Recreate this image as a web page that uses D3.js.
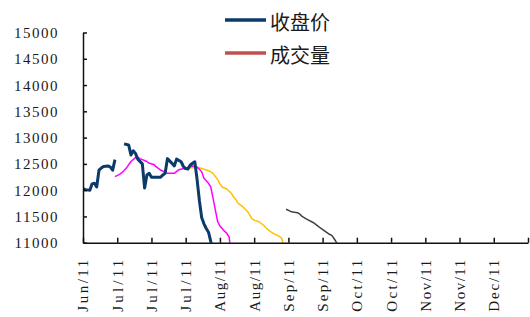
<!DOCTYPE html>
<html>
<head>
<meta charset="utf-8">
<script src="https://cdn.jsdelivr.net/npm/d3@7"></script>
<style>
  body { margin: 0; background: #fff; }
  svg { display: block; }
  .axis text { font-family: "Liberation Serif", serif; font-size: 15px; fill: #1a1a1a; }
  .axis path, .axis line { stroke: #111; stroke-width: 1.5; }
  .legend text { font-family: "Noto Sans CJK SC", sans-serif; font-size: 20px; fill: #1a1a1a; }
</style>
</head>
<body>
<div id="chart"></div>
<script>
/* global d3 */

// tick labels (15 day steps, last tick has no label)
var tickDates = ["2011-06-16", "2011-07-01", "2011-07-16", "2011-07-31", "2011-08-15", "2011-08-30",
  "2011-09-14", "2011-09-29", "2011-10-14", "2011-10-29", "2011-11-13", "2011-11-28", "2011-12-13", "2011-12-28"];
var tickLabels = ["Jun/11", "Jul/11", "Jul/11", "Jul/11", "Aug/11", "Aug/11", "Sep/11",
  "Sep/11", "Oct/11", "Oct/11", "Nov/11", "Nov/11", "Dec/11", ""];
var yTicks = [11000, 11500, 12000, 12500, 13000, 13500, 14000, 14500, 15000];

var legendNames = ["收盘价", "成交量"];
var legendColors = ["#0b3a6b", "#c0504d"];

// 收盘价
var closeDates = ["06-16", "06-17", "06-19", "06-20", "06-21", "06-22", "06-23", "06-24", "06-25", "06-27",
  "06-28", "06-29", "06-30", "07-02", "07-04", "07-06", "07-07", "07-08", "07-09", "07-10",
  "07-12", "07-13", "07-14", "07-15", "07-16", "07-20", "07-21", "07-22", "07-23", "07-25",
  "07-26", "07-27", "07-29", "07-30", "07-31", "08-01", "08-02", "08-03", "08-04", "08-05",
  "08-06", "08-07", "08-08", "08-09", "08-10", "08-11", "08-12"];
var closeValues = [12030, 12010, 12000, 12120, 12130, 12060, 12380, 12420, 12450, 12460,
  12440, 12380, 12580, null, 12880, 12860, 12670, 12750, 12700, 12590,
  12500, 12040, 12290, 12320, 12245, 12245, 12290, 12320, 12600, 12510,
  12460, 12590, 12540, 12450, 12410, 12400, 12480, 12510, 12540, 12200,
  11800, 11480, 11360, 11270, 11200, 11020, 10850];

// magenta line
var ma1Dates = ["06-30", "07-02", "07-03", "07-05", "07-07", "07-09", "07-10", "07-11", "07-14", "07-15",
  "07-17", "07-18", "07-20", "07-23", "07-26", "07-28", "07-31", "08-03", "08-05", "08-06",
  "08-07", "08-08", "08-10", "08-11", "08-12", "08-13", "08-14", "08-15", "08-17", "08-18",
  "08-19", "08-20"];
var ma1Values = [12256, 12300, 12332, 12420, 12545, 12620, 12625, 12600, 12545, 12511,
  12490, 12446, 12383, 12320, 12320, 12390, 12420, 12460, 12440, 12397,
  12351, 12225, 12130, 12060, 11845, 11620, 11400, 11320, 11220, 11180,
  11110, 10800];

// gold line
var ma2Dates = ["07-30", "07-31", "08-02", "08-03", "08-05", "08-07", "08-09", "08-11", "08-12", "08-14",
  "08-15", "08-16", "08-18", "08-20", "08-21", "08-22", "08-23", "08-25", "08-27", "08-29",
  "08-30", "09-01", "09-03", "09-05", "09-07", "09-10", "09-11", "09-12"];
var ma2Values = [12400, 12405, 12425, 12427, 12425, 12415, 12383, 12350, 12320, 12200,
  12120, 12060, 12022, 11940, 11870, 11820, 11750, 11685, 11600, 11460,
  11430, 11400, 11337, 11250, 11185, 11120, 11090, 10950];

// dark gray line
var ma3Dates = ["09-13", "09-15", "09-16", "09-18", "09-19", "09-20", "09-22", "09-25", "09-26", "09-28",
  "09-30", "10-02", "10-03", "10-04", "10-05", "10-06"];
var ma3Values = [11636, 11595, 11585, 11571, 11545, 11500, 11450, 11380, 11350, 11280,
  11220, 11160, 11140, 11080, 11010, 10950];

var width = 530,
  height = 317,
  margin = {top: 32.5, right: 2, bottom: 74.3, left: 83},
  innerWidth = width - margin.left - margin.right,
  innerHeight = height - margin.top - margin.bottom;

var parse = d3.utcParse("%Y-%m-%d");

function pairs(dates, values) {
  return dates.map(function(d, i) { return {date: parse("2011-" + d), value: values[i]}; });
}

var svg = d3.select("#chart").append("svg")
    .attr("width", width)
    .attr("height", height);

var g = svg.append("g")
    .attr("transform", "translate(" + margin.left + "," + margin.top + ")");

var xScale = d3.scaleUtc()
    .domain([parse(tickDates[0]), parse(tickDates[tickDates.length - 1])])
    .range([0, innerWidth]);
var yScale = d3.scaleLinear()
    .domain([11000, 15000])
    .range([innerHeight, 0]);

g.append("defs").append("clipPath").attr("id", "plot")
  .append("rect")
    .attr("width", innerWidth)
    .attr("height", innerHeight);

var line = d3.line()
    .defined(function(d) { return d.value != null; })
    .x(function(d) { return xScale(d.date); })
    .y(function(d) { return yScale(d.value); });

var series = [
  {data: pairs(ma3Dates, ma3Values), color: "#3f3f3f", w: 1.5},
  {data: pairs(ma2Dates, ma2Values), color: "#ffc000", w: 1.5},
  {data: pairs(ma1Dates, ma1Values), color: "#ff00ff", w: 1.5},
  {data: pairs(closeDates, closeValues), color: legendColors[0], w: 3}
];

g.append("g").attr("clip-path", "url(#plot)")
  .selectAll("path")
  .data(series)
  .enter().append("path")
    .attr("fill", "none")
    .attr("stroke", function(d) { return d.color; })
    .attr("stroke-width", function(d) { return d.w; })
    .attr("stroke-linejoin", "round")
    .attr("d", function(d) { return line(d.data); });

// y axis, ticks point inward
g.append("g")
    .attr("class", "axis")
    .call(d3.axisLeft(yScale).tickValues(yTicks).tickFormat(d3.format("d"))
      .tickSizeInner(-4).tickSizeOuter(0).tickPadding(24))
    .selectAll("text")
    .attr("dy", "0.33em")
    .style("letter-spacing", "1.5px");

// x axis
var xAxis = g.append("g")
    .attr("class", "axis")
    .attr("transform", "translate(0," + innerHeight + ")")
    .call(d3.axisBottom(xScale)
      .tickValues(tickDates.map(parse))
      .tickFormat(function(d, i) { return tickLabels[i]; })
      .tickSizeInner(-5).tickSizeOuter(0));

// fixed length labels, like the monospaced cells of the original
xAxis.selectAll("text")
    .filter(function(d, i) { return tickLabels[i] !== ""; })
    .attr("transform", "rotate(-90)")
    .attr("text-anchor", "end")
    .attr("x", -17)
    .attr("y", 0)
    .attr("dy", "0.33em")
    .attr("textLength", 52)
    .attr("lengthAdjust", "spacing");

// legend
var legend = svg.append("g").attr("class", "legend")
  .selectAll("g")
  .data(legendNames)
  .enter().append("g")
    .attr("transform", function(d, i) { return "translate(225," + (20 + i * 33) + ")"; });

legend.append("line")
    .attr("x1", 0).attr("x2", 41)
    .attr("stroke", function(d, i) { return legendColors[i]; })
    .attr("stroke-width", 3.5);

legend.append("text")
    .attr("x", 45)
    .attr("y", 2.5)
    .attr("dy", "0.35em")
    .text(function(d) { return d; });
</script>
</body>
</html>
